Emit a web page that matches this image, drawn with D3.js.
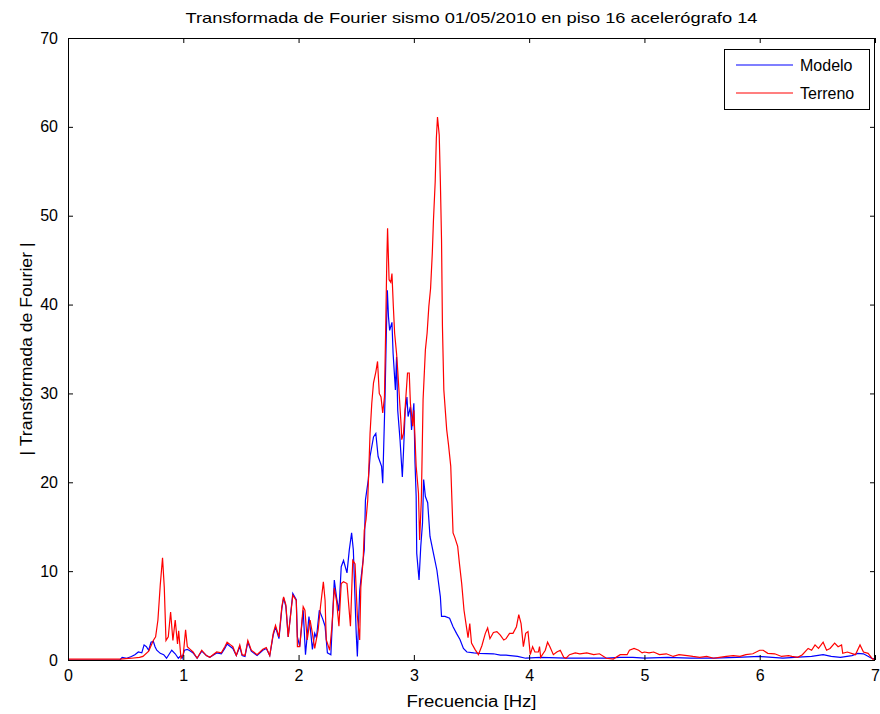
<!DOCTYPE html>
<html>
<head>
<meta charset="utf-8">
<script src="https://cdn.jsdelivr.net/npm/d3@7"></script>
<style>
  html, body { margin: 0; padding: 0; background: #fff; }
  svg { display: block; }
  text { font-family: "Liberation Sans", Arial, sans-serif; fill: #000; }
</style>
</head>
<body>
<svg id="chart" width="880" height="714"></svg>
<script>
const titleText = "Transformada de Fourier sismo 01/05/2010 en piso 16 acelerógrafo 14";
const xLabel = "Frecuencia [Hz]";
const yLabel = "| Transformada de Fourier |";
const seriesNames = ["Modelo", "Terreno"];
const seriesColors = ["#0000ff", "#ff0000"];
const xTicks = [0, 1, 2, 3, 4, 5, 6, 7];
const yTicks = [0, 10, 20, 30, 40, 50, 60, 70];

// Modelo (blue)
const freqModelo = [0, 0.45, 0.47, 0.51, 0.55, 0.58, 0.61, 0.64, 0.66, 0.68, 0.70, 0.72, 0.74, 0.755, 0.77, 0.80, 0.83, 0.855, 0.88, 0.90, 0.93, 0.957, 0.98, 0.99,
  1.01, 1.035, 1.06, 1.085, 1.12, 1.16, 1.20, 1.23, 1.29, 1.33, 1.36, 1.38, 1.41, 1.43, 1.46, 1.49, 1.51, 1.535, 1.56, 1.59, 1.64, 1.69, 1.72, 1.75, 1.78,
  1.80, 1.83, 1.855, 1.87, 1.89, 1.91, 1.95, 1.98, 1.99, 2.01, 2.04, 2.06, 2.09, 2.10, 2.12, 2.14, 2.155, 2.18, 2.21, 2.23, 2.25, 2.28, 2.31, 2.33, 2.35,
  2.37, 2.39, 2.42, 2.44, 2.46, 2.475, 2.50, 2.51, 2.53, 2.54, 2.57, 2.58, 2.605, 2.62, 2.65, 2.67, 2.69, 2.72, 2.73, 2.75, 2.76, 2.77, 2.78, 2.79, 2.81,
  2.82, 2.84, 2.85, 2.86, 2.88, 2.90, 2.91, 2.925, 2.94, 2.95, 2.97, 2.98, 3.00, 3.01, 3.02, 3.025, 3.045, 3.06, 3.075, 3.085, 3.10, 3.12, 3.14, 3.17,
  3.20, 3.23, 3.24, 3.27, 3.31, 3.34, 3.37, 3.40, 3.43, 3.46, 3.52, 3.57, 3.69, 3.75, 3.80, 3.90, 3.97, 4.10, 4.32, 4.50, 4.67, 4.79, 4.90, 5.00, 5.20,
  5.40, 5.60, 5.80, 6.00, 6.20, 6.30, 6.45, 6.55, 6.62, 6.70, 6.80, 6.85, 6.90, 6.97, 7.00];
const ampModelo = [0, 0, 0.3, 0.2, 0.4, 0.6, 0.9, 0.8, 1.7, 1.5, 1.1, 2.0, 2.1, 1.5, 1.1, 0.75, 0.6, 0.2, 0.7, 1.1, 0.7, 0.2, 0.5, 0.2,
  1.1, 1.2, 1.0, 0.8, 0.2, 1.0, 0.5, 0.3, 0.8, 0.7, 1.3, 1.8, 1.5, 1.3, 0.5, 1.5, 0.5, 0.4, 2.0, 1.0, 0.5, 1.1, 1.3, 0.5, 2.8,
  3.7, 2.4, 5.8, 7.0, 6.0, 2.6, 7.5, 6.8, 2.6, 1.5, 5.6, 0.6, 4.9, 3.8, 1.2, 3.0, 2.5, 5.6, 4.6, 3.8, 0.8, 0.6, 9.0, 7.0, 5.5,
  10.5, 11.2, 9.8, 12.4, 14.3, 12.4, 3.0, 0.4, 7.8, 9.0, 12.4, 18.0, 20.3, 22.9, 25.1, 25.5, 22.9, 21.8, 19.9, 29.6, 36.0, 41.6, 38.6, 37.1, 38.0,
  34.5, 30.4, 34.1, 28.1, 24.8, 20.6, 23.4, 28.1, 29.6, 27.4, 28.5, 25.9, 28.9, 22.2, 18.4, 12.0, 9.0, 12.8, 15.4, 20.3, 18.4, 17.7, 13.9, 12.0,
  10.1, 7.1, 4.9, 4.9, 4.7, 3.75, 3.0, 2.3, 1.3, 0.9, 0.8, 0.75, 0.7, 0.55, 0.55, 0.4, 0.2, 0.3, 0.2, 0.2, 0.2, 0.3, 0.3, 0.2, 0.3,
  0.2, 0.2, 0.3, 0.4, 0.2, 0.3, 0.4, 0.6, 0.4, 0.3, 0.5, 0.75, 0.7, 0.2, 0.1];

// Terreno (red)
const freqTerreno = [0, 0.45, 0.55, 0.62, 0.65, 0.70, 0.74, 0.76, 0.78, 0.80, 0.82, 0.835, 0.85, 0.87, 0.89, 0.91, 0.93, 0.95, 0.96, 0.98,
  1.00, 1.02, 1.035, 1.06, 1.085, 1.12, 1.16, 1.20, 1.23, 1.29, 1.33, 1.36, 1.38, 1.41, 1.43, 1.46, 1.49, 1.51, 1.535, 1.56, 1.59, 1.64, 1.69, 1.72,
  1.75, 1.78, 1.80, 1.83, 1.855, 1.87, 1.89, 1.91, 1.95, 1.98, 1.99, 2.01, 2.04, 2.055, 2.075, 2.10, 2.12, 2.14, 2.17, 2.19, 2.215, 2.23, 2.24, 2.27,
  2.29, 2.31, 2.33, 2.35, 2.37, 2.39, 2.42, 2.45, 2.47, 2.49, 2.51, 2.53, 2.54, 2.56, 2.57, 2.585, 2.60, 2.62, 2.635, 2.65, 2.67, 2.685, 2.70, 2.715,
  2.73, 2.745, 2.755, 2.765, 2.772, 2.785, 2.80, 2.81, 2.822, 2.833, 2.85, 2.86, 2.89, 2.895, 2.91, 2.925, 2.945, 2.96, 2.97, 2.99, 3.00, 3.02, 3.04,
  3.05, 3.065, 3.08, 3.10, 3.115, 3.13, 3.145, 3.16, 3.17, 3.185, 3.195, 3.205, 3.22, 3.23, 3.24, 3.248, 3.26, 3.285, 3.30, 3.32, 3.34, 3.355, 3.38,
  3.395, 3.415, 3.435, 3.46, 3.47, 3.485, 3.50, 3.53, 3.56, 3.59, 3.62, 3.64, 3.66, 3.69, 3.72, 3.75, 3.78, 3.80, 3.83, 3.86, 3.89, 3.91, 3.93, 3.95,
  3.97, 3.99, 4.01, 4.03, 4.05, 4.08, 4.09, 4.10, 4.14, 4.16, 4.18, 4.21, 4.24, 4.27, 4.30, 4.32, 4.35, 4.40, 4.44, 4.50, 4.56, 4.61, 4.67, 4.73,
  4.79, 4.85, 4.87, 4.91, 4.95, 4.98, 5.00, 5.04, 5.08, 5.13, 5.19, 5.25, 5.30, 5.37, 5.42, 5.48, 5.54, 5.60, 5.65, 5.71, 5.77, 5.83, 5.88, 5.94,
  6.00, 6.03, 6.07, 6.13, 6.19, 6.25, 6.28, 6.33, 6.37, 6.42, 6.45, 6.48, 6.51, 6.55, 6.58, 6.61, 6.65, 6.68, 6.71, 6.72, 6.76, 6.83, 6.87, 6.90,
  6.94, 6.98, 7.00];
const ampTerreno = [0.1, 0.1, 0.2, 0.3, 0.4, 1.0, 2.2, 2.6, 4.5, 8.4, 11.5, 8.2, 2.2, 2.6, 5.4, 2.2, 4.5, 1.8, 3.3, 0.2,
  0.6, 3.4, 1.5, 1.2, 0.9, 0.2, 1.1, 0.5, 0.3, 0.9, 0.8, 1.5, 2.0, 1.7, 1.5, 0.5, 1.7, 0.6, 0.5, 2.2, 1.1, 0.6, 1.2, 1.4,
  0.5, 3.0, 3.9, 2.6, 6.0, 7.1, 6.2, 2.6, 7.3, 6.7, 1.5, 1.5, 6.0, 5.6, 2.25, 4.5, 3.0, 1.3, 3.4, 6.0, 8.8, 6.7, 2.3, 1.1,
  3.9, 8.1, 6.6, 3.8, 8.6, 8.8, 8.6, 3.8, 11.2, 10.8, 4.9, 2.25, 8.2, 11.2, 14.6, 15.8, 18.0, 25.5, 28.9, 31.2, 32.4, 33.6, 30.0, 29.6,
  27.8, 29.6, 36.8, 44.7, 48.6, 42.8, 42.5, 43.5, 39.8, 36.8, 34.5, 32.6, 26.3, 24.8, 25.5, 28.5, 32.3, 32.3, 28.9, 26.3, 28.1, 21.8, 18.8,
  13.5, 18.0, 29.3, 34.9, 36.8, 39.8, 41.8, 45.8, 49.5, 53.8, 58.7, 61.1, 59.1, 53.8, 47.3, 37.5, 30.4, 25.9, 24.3, 21.8, 14.3, 13.8, 12.8,
  10.9, 8.6, 5.6, 3.4, 2.5, 4.1, 1.9, 1.2, 0.6, 1.6, 3.0, 3.6, 2.4, 3.1, 3.2, 2.8, 2.25, 2.4, 3.0, 3.0, 3.75, 5.1, 4.1, 1.5,
  3.0, 3.2, 0.6, 1.5, 0.9, 0.9, 1.5, 0.3, 1.1, 2.0, 1.5, 0.6, 0.9, 1.1, 0.3, 0.2, 0.6, 0.8, 0.7, 0.8, 0.6, 0.7, 0.2, 0.1,
  0.6, 0.6, 1.1, 1.3, 1.1, 0.8, 0.9, 0.8, 0.9, 0.6, 0.7, 0.4, 0.6, 0.5, 0.4, 0.3, 0.4, 0.2, 0.3, 0.4, 0.5, 0.4, 0.6, 0.7,
  1.1, 1.1, 0.75, 0.7, 0.4, 0.5, 0.4, 0.3, 0.6, 1.3, 1.1, 1.7, 1.3, 2.0, 1.1, 1.3, 1.9, 1.5, 1.7, 0.75, 0.9, 0.6, 1.7, 0.9,
  0.75, 0.1, 0.1];

const W = 880, H = 714;
const margin = { left: 68, right: 5, top: 38, bottom: 54 };
const px0 = margin.left, px1 = W - margin.right, py0 = margin.top, py1 = H - margin.bottom;

const svg = d3.select("#chart");
svg.append("rect").attr("width", W).attr("height", H).attr("fill", "#fff");

const xScale = d3.scaleLinear().domain([0, 7]).range([px0, px1]);
const yScale = d3.scaleLinear().domain([0, 70]).range([py1, py0]);

svg.append("clipPath").attr("id", "plotclip")
  .append("rect").attr("x", px0).attr("y", py0).attr("width", px1 - px0).attr("height", py1 - py0);

const lineGen = d3.line().x(d => xScale(d[0])).y(d => yScale(d[1]));

const seriesList = [
  { name: seriesNames[0], color: seriesColors[0], data: freqModelo.map((f, i) => [f, ampModelo[i]]) },
  { name: seriesNames[1], color: seriesColors[1], data: freqTerreno.map((f, i) => [f, ampTerreno[i]]) }
];

const plotG = svg.append("g").attr("clip-path", "url(#plotclip)");
seriesList.forEach(s => {
  plotG.append("path").datum(s.data)
    .attr("d", lineGen)
    .attr("fill", "none")
    .attr("stroke", s.color)
    .attr("stroke-width", 1.2)
    .attr("stroke-linejoin", "miter");
});

const tickLen = 5;
const axisFont = "16px";
const gBottom = svg.append("g").attr("transform", `translate(0,${py1})`)
  .call(d3.axisBottom(xScale).tickValues(xTicks).tickSizeInner(-tickLen).tickSizeOuter(0).tickPadding(10).tickFormat(d3.format("d")));
const gTop = svg.append("g").attr("transform", `translate(0,${py0})`)
  .call(d3.axisTop(xScale).tickValues(xTicks).tickSizeInner(-tickLen).tickSizeOuter(0).tickFormat(""));
const gLeft = svg.append("g").attr("transform", `translate(${px0},0)`)
  .call(d3.axisLeft(yScale).tickValues(yTicks).tickSizeInner(-tickLen).tickSizeOuter(0).tickPadding(10).tickFormat(d3.format("d")));
const gRight = svg.append("g").attr("transform", `translate(${px1},0)`)
  .call(d3.axisRight(yScale).tickValues(yTicks).tickSizeInner(-tickLen).tickSizeOuter(0).tickFormat(""));

[gBottom, gTop, gLeft, gRight].forEach(g => {
  g.select(".domain").remove();
  g.selectAll(".tick line").attr("stroke", "#000").attr("stroke-width", 1);
  g.selectAll(".tick text").attr("font-family", "Liberation Sans, Arial, sans-serif").attr("font-size", axisFont).attr("fill", "#000");
});

svg.append("rect").attr("x", px0 + 0.5).attr("y", py0 + 0.5).attr("width", px1 - px0 - 1).attr("height", py1 - py0)
  .attr("fill", "none").attr("stroke", "#000").attr("stroke-width", 1);

svg.append("text").attr("x", (px0 + px1) / 2).attr("y", 23).attr("text-anchor", "middle")
  .attr("font-size", "15px").attr("textLength", 572).attr("lengthAdjust", "spacingAndGlyphs").text(titleText);

svg.append("text").attr("x", (px0 + px1) / 2).attr("y", 707).attr("text-anchor", "middle")
  .attr("font-size", "16px").attr("textLength", 130).attr("lengthAdjust", "spacingAndGlyphs").text(xLabel);

svg.append("text").attr("transform", `translate(32,${(py0 + py1) / 2}) rotate(-90)`).attr("text-anchor", "middle")
  .attr("font-size", "16px").attr("textLength", 213).attr("lengthAdjust", "spacingAndGlyphs").text(yLabel);

const lg = svg.append("g");
lg.append("rect").attr("x", 724.5).attr("y", 49.5).attr("width", 145).attr("height", 60)
  .attr("fill", "#fff").attr("stroke", "#000").attr("stroke-width", 1);
seriesList.forEach((s, i) => {
  const ly = 65 + i * 28;
  lg.append("line").attr("x1", 736).attr("x2", 793).attr("y1", ly).attr("y2", ly)
    .attr("stroke", s.color).attr("stroke-width", 1.2);
  lg.append("text").attr("x", 800).attr("y", ly).attr("dy", "0.35em").attr("font-size", "16px").text(s.name);
});
</script>
</body>
</html>
